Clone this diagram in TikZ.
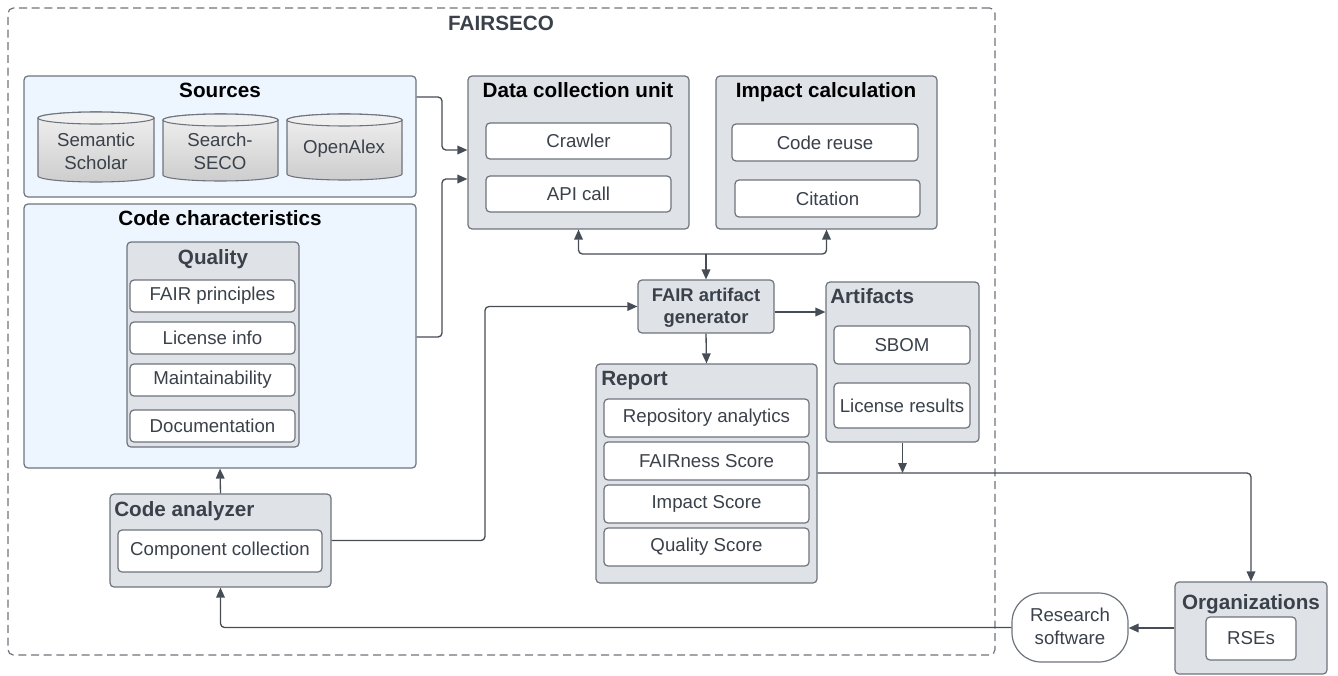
\documentclass[tikz,border=0pt]{standalone}
\usepackage{fontspec}
\setmainfont{Liberation Sans}
\usetikzlibrary{fit,arrows.meta,calc}
\definecolor{bord}{HTML}{6E747D}
\definecolor{grayf}{HTML}{DFE3E8}
\definecolor{bluef}{HTML}{EDF5FF}
\definecolor{txt}{HTML}{3A414A}
\definecolor{arrc}{HTML}{474D56}
\definecolor{cyltop}{HTML}{F0F0F0}
\definecolor{cylbot}{HTML}{CDCDCD}
\newcommand\regf{\fontsize{14}{17.2}\selectfont}
\newcommand\ttlf{\fontsize{15.5}{18}\selectfont\bfseries}
\newcommand\fairf{\fontsize{13.8}{16.8}\selectfont\bfseries}
\newcommand\mycyl[4]{%
  \pgfmathsetmacro\cylrx{(#3-#1)/2*0.75}%
  \path[draw=bord, line width=0.8pt, top color=cyltop, bottom color=cylbot]
    (#1,{#2+6}) -- (#1,{#4-6})
    arc[start angle=180,end angle=360,x radius=\cylrx pt,y radius=4.5pt]
    -- (#3,{#2+6})
    arc[start angle=0,end angle=180,x radius=\cylrx pt,y radius=4.5pt] -- cycle;
  \path[draw=bord, line width=0.8pt, fill=cyltop] ({(#1+#3)/2},{#2+6}) ellipse[x radius=\cylrx pt,y radius=4.5pt];
}
\tikzset{
  grp/.style={draw=bord, fill=grayf, rounded corners=3pt, line width=0.9pt, inner sep=0pt},
  blu/.style={draw=bord, fill=bluef, rounded corners=3pt, line width=0.9pt, inner sep=0pt},
  regt/.style={font=\regf, text=txt, align=center, inner sep=0pt},
  itm/.style={draw=bord, fill=white, rounded corners=3pt, line width=0.9pt, inner sep=0pt,
              label={[regt]center:{#1}}},
  ttlk/.style={font=\ttlf, text=black, anchor=base, inner sep=0pt},
  ttlg/.style={font=\ttlf, text=txt, anchor=base, inner sep=0pt},
  ttlgl/.style={font=\ttlf, text=txt, anchor=base west, inner sep=0pt},
  arr/.style={draw=arrc, line width=1pt, rounded corners=3pt, -{Triangle[length=7.5pt,width=6.5pt]}},
  outerbox/.style={draw=bord, line width=0.9pt, rounded corners=4pt, dash pattern=on 6pt off 3.5pt},
}
\begin{document}
\begin{tikzpicture}[x=0.75pt,y=-0.75pt]
\useasboundingbox (0,0) rectangle (1338,675);

% outer FAIRSECO frame
\node[outerbox, fit={(8,8) (995,655)}, inner sep=0pt] (fairseco) {};
\node[ttlg] (fairsecoT) at (501,30) {FAIRSECO};

% Sources
\node[blu, fit={(24,76) (416,197)}] (src) {};
\node[ttlk] (srcT) at (220,97) {Sources};
\mycyl{38}{112}{154}{182}
\mycyl{163}{114}{278}{181}
\mycyl{287}{114}{402}{180}
\node[regt] (semsch) at (96,151) {Semantic\\Scholar};
\node[regt] (sseco) at (220,151) {Search-\\SECO};
\node[regt] (openalex) at (344,149) {OpenAlex};

% Code characteristics
\node[blu, fit={(24,204) (416,468)}] (cc) {};
\node[ttlk] (ccT) at (220,225) {Code characteristics};
\node[grp, fit={(127,242) (299,447)}] (qual) {};
\node[ttlg] (qualT) at (213,264) {Quality};
\node[itm={FAIR principles}, fit={(130,280) (295,312)}] (fairp) {};
\node[itm={License info}, fit={(130,322) (295,354)}] (licinfo) {};
\node[itm={Maintainability}, fit={(130,364) (295,396)}] (maint) {};
\node[itm={Documentation}, fit={(130,410) (295,442)}] (docu) {};

% Data collection unit
\node[grp, fit={(468,76) (689,229)}] (dcu) {};
\node[ttlk] (dcuT) at (578,97) {Data collection unit};
\node[itm={Crawler}, fit={(486,123) (671,159)}] (crawler) {};
\node[itm={API call}, fit={(486,176) (671,212)}] (api) {};

% Impact calculation
\node[grp, fit={(716,76) (937,229)}] (imp) {};
\node[ttlk] (impT) at (826,97) {Impact calculation};
\node[itm={Code reuse}, fit={(732,124) (918,161)}] (reuse) {};
\node[itm={Citation}, fit={(735,180) (920,217)}] (cit) {};

% FAIR artifact generator
\node[grp, fit={(638,280) (774,333)}] (fair) {};
\node[font=\fairf, text=txt, align=center, inner sep=0pt] (fairT) at (706,307.5) {FAIR artifact\\generator};

% Artifacts
\node[grp, fit={(826,282) (979,442)}] (art) {};
\node[ttlgl] (artT) at (830,303) {Artifacts};
\node[itm={SBOM}, fit={(834,326) (970,364)}] (sbom) {};
\node[itm={License results}, fit={(834,383) (970,428)}] (licres) {};

% Report
\node[grp, fit={(596,364) (817,583)}] (rep) {};
\node[ttlgl] (repT) at (601,385) {Report};
\node[itm={Repository analytics}, fit={(604,399) (809,437)}] (repo) {};
\node[itm={FAIRness Score}, fit={(604,442) (809,480)}] (fscore) {};
\node[itm={Impact Score}, fit={(604,485) (809,523)}] (iscore) {};
\node[itm={Quality Score}, fit={(604,528) (809,566)}] (qscore) {};

% Code analyzer
\node[grp, fit={(110,494) (331,587)}] (ca) {};
\node[ttlgl] (caT) at (114,516) {Code analyzer};
\node[itm={Component collection}, fit={(118,530) (322,572)}] (compcol) {};

% Research software & Organizations
\node[draw=bord, fill=white, line width=0.9pt, rounded corners=22pt, inner sep=0pt,
      fit={(1012,593) (1128,662)}] (rs) {};
\node[regt] (rsT) at (1070,626) {Research\\software};
\node[grp, fit={(1175,582) (1327,674)}] (org) {};
\node[ttlg] (orgT) at (1251,609) {Organizations};
\node[itm={RSEs}, fit={(1206,617) (1296,660)}] (rse) {};

% connector helper coordinates
\coordinate (s1) at (442,97);
\coordinate (s2) at (442,150);
\coordinate (c1) at (442,337);
\coordinate (c2) at (442,179);
\coordinate (J) at (706,254);
\coordinate (k) at (485,400);
\coordinate (fa) at (800,312);
\coordinate (r1) at (1251,473);

% connectors
\draw[arr] (src.east |- s1) -- (s1) -- (s2) -- (dcu.west |- s2);
\draw[arr] (cc.east |- c1) -- (c1) -- (c2) -- (dcu.west |- c2);
\draw[arr] (J) -| (dcu.south);
\draw[arr] (J) -| (imp.south);
\draw[arr] (J) -- (fair.north);
\draw[arr] (ca.east) -- (ca.east -| k) |- (fair.west);
\draw[arr] (fair.east |- fa) -- (art.west |- fa);
\draw[arr] (fair.south) -- (rep.north);
\draw[arr] (art.south) -- (art.south |- r1);
\draw[arr] (rep.east |- r1) -- (r1) -- (org.north);
\draw[arr] (org.west) -- (org.west -| rs.east);
\draw[arr] (rs.west) -| (ca.south);
\draw[arr] (ca.north) -- (cc.south);
\end{tikzpicture}
\end{document}
